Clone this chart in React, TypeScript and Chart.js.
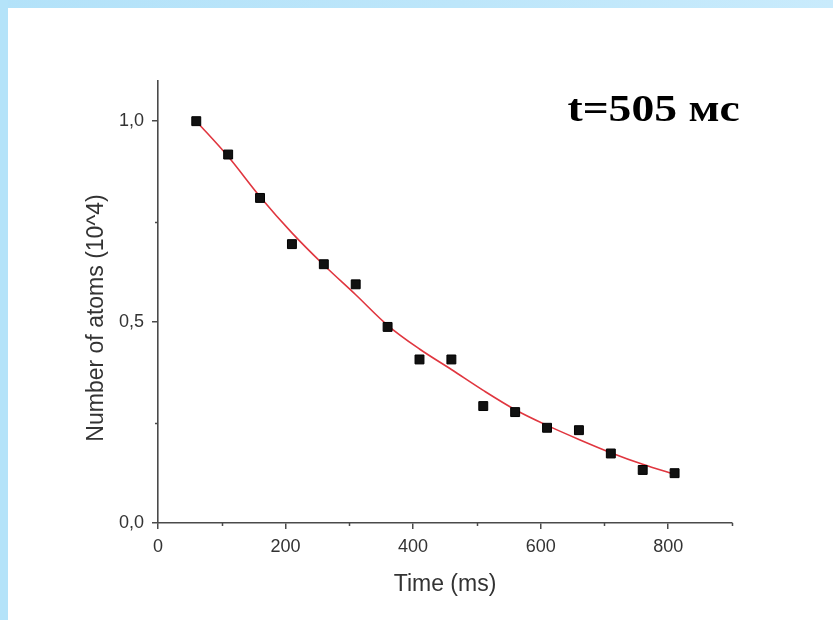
import React, { useEffect, useRef } from "react";
import { Chart, registerables } from "chart.js";

Chart.register(...registerables);

// ---- data ----
const timesMs = [60, 110, 160, 210, 260, 310, 360, 410, 460, 510, 560, 610, 660, 710, 760, 810];
const atoms = [1.0, 0.917, 0.809, 0.694, 0.644, 0.594, 0.488, 0.407, 0.407, 0.291, 0.276, 0.237, 0.231, 0.173, 0.132, 0.124];
const fitAtoms = [1.0, 0.912, 0.812, 0.722, 0.642, 0.568, 0.492, 0.433, 0.382, 0.33, 0.282, 0.243, 0.208, 0.175, 0.146, 0.121];
const xMajorTicks = [0, 200, 400, 600, 800];
const yMajorTicks = [0, 0.5, 1.0];
const xTitle = "Time (ms)";
const yTitle = "Number of atoms (10^4)";
const annotationText = "t=505 мс";
const annotationAt = [642, 1.0];

const AXIS = "#4a4a4a";
const LABEL = "#333333";
const SANS = '"Liberation Sans", Arial, sans-serif';

const isMajor = (list: number[], v: number) => list.some((m) => Math.abs(m - v) < 1e-9);

const decorPlugin = {
  id: "decor",
  afterDraw(chart: any) {
    const { ctx, chartArea, scales } = chart;
    const xs = scales.x;
    const ys = scales.y;
    ctx.save();
    // minor ticks
    ctx.strokeStyle = AXIS;
    ctx.lineWidth = 1.5;
    xs.ticks.forEach((t: any) => {
      if (!isMajor(xMajorTicks, t.value)) {
        const px = Math.round(xs.getPixelForValue(t.value)) + 0.5;
        ctx.beginPath();
        ctx.moveTo(px, chartArea.bottom);
        ctx.lineTo(px, chartArea.bottom + 3);
        ctx.stroke();
      }
    });
    ys.ticks.forEach((t: any) => {
      if (!isMajor(yMajorTicks, t.value)) {
        const py = Math.round(ys.getPixelForValue(t.value)) + 0.5;
        ctx.beginPath();
        ctx.moveTo(chartArea.left, py);
        ctx.lineTo(chartArea.left - 3, py);
        ctx.stroke();
      }
    });
    // axis titles
    ctx.fillStyle = LABEL;
    ctx.font = `23px ${SANS}`;
    ctx.textAlign = "center";
    ctx.textBaseline = "middle";
    ctx.fillText(xTitle, (chartArea.left + chartArea.right) / 2, chartArea.bottom + 62);
    ctx.save();
    ctx.translate(chartArea.left - 61, (chartArea.top + chartArea.bottom) / 2 + 16);
    ctx.rotate(-Math.PI / 2);
    ctx.fillText(yTitle, 0, 0);
    ctx.restore();
    // annotation
    const ax = xs.getPixelForValue(annotationAt[0]);
    const ay = ys.getPixelForValue(annotationAt[1]);
    ctx.fillStyle = "#000";
    ctx.font = 'bold 38px "Liberation Serif", "Times New Roman", serif';
    ctx.textAlign = "left";
    ctx.textBaseline = "alphabetic";
    ctx.translate(ax, ay);
    ctx.scale(1.2, 1);
    ctx.fillText(annotationText, 0, 0);
    ctx.restore();
  },
};

export default function App() {
  const canvasRef = useRef<HTMLCanvasElement | null>(null);

  useEffect(() => {
    if (!canvasRef.current) return;
    const chart = new Chart(canvasRef.current, {
      type: "scatter",
      data: {
        datasets: [
          {
            label: "data",
            data: timesMs.map((t, i) => ({ x: t, y: atoms[i] })),
            pointStyle: "rect",
            pointRadius: 6.3,
            backgroundColor: "#111",
            borderColor: "#000",
            borderWidth: 1,
            order: 0,
          },
          {
            label: "fit",
            data: timesMs.map((t, i) => ({ x: t, y: fitAtoms[i] })),
            showLine: true,
            borderColor: "#e0363f",
            borderWidth: 1.6,
            pointRadius: 0,
            cubicInterpolationMode: "monotone",
            order: 1,
          },
        ],
      },
      options: {
        animation: false,
        responsive: false,
        layout: { padding: { top: 81, right: 101, left: 0, bottom: 0 } },
        plugins: { legend: { display: false }, tooltip: { enabled: false } },
        scales: {
          x: {
            type: "linear",
            min: 0,
            max: 900,
            afterFit: (s: any) => {
              s.height = 97;
            },
            border: { display: true, color: AXIS, width: 1.6 },
            grid: {
              display: true,
              drawOnChartArea: false,
              drawTicks: true,
              tickLength: 6,
              lineWidth: 1.5,
              color: (c: any) => (c.tick && isMajor(xMajorTicks, c.tick.value) ? AXIS : "rgba(0,0,0,0)"),
            },
            ticks: {
              stepSize: 100,
              autoSkip: false,
              maxRotation: 0,
              includeBounds: false,
              padding: 7,
              color: LABEL,
              font: { family: SANS, size: 18 },
              callback: (v: any) => (isMajor(xMajorTicks, Number(v)) ? String(v) : ""),
            },
          },
          y: {
            type: "linear",
            min: 0,
            max: 1.1,
            afterFit: (s: any) => {
              s.width = 158;
            },
            border: { display: true, color: AXIS, width: 1.6 },
            grid: {
              display: true,
              drawOnChartArea: false,
              drawTicks: true,
              tickLength: 6,
              lineWidth: 1.5,
              color: (c: any) => (c.tick && isMajor(yMajorTicks, c.tick.value) ? AXIS : "rgba(0,0,0,0)"),
            },
            ticks: {
              stepSize: 0.25,
              autoSkip: false,
              includeBounds: false,
              padding: 8,
              color: LABEL,
              font: { family: SANS, size: 18 },
              callback: (v: any) =>
                isMajor(yMajorTicks, Number(v)) ? Number(v).toFixed(1).replace(".", ",") : "",
            },
          },
        },
      },
      plugins: [decorPlugin],
    } as any);
    return () => chart.destroy();
  }, []);

  return (
    <div
      style={{
        position: "fixed",
        left: 0,
        top: 0,
        width: 833,
        height: 620,
        background: "#ffffff",
        overflow: "hidden",
      }}
    >
      <div
        style={{
          position: "absolute",
          left: 0,
          top: 0,
          width: 833,
          height: 8,
          background: "linear-gradient(to right, #b3e2f9, #bde6fa 55%, #c9ebfc)",
        }}
      />
      <div
        style={{
          position: "absolute",
          left: 0,
          top: 0,
          width: 8,
          height: 620,
          background: "#b4e3f9",
        }}
      />
      <canvas
        ref={canvasRef}
        width={833}
        height={620}
        style={{ position: "absolute", left: 0, top: 0, width: 833, height: 620 }}
      />
    </div>
  );
}
